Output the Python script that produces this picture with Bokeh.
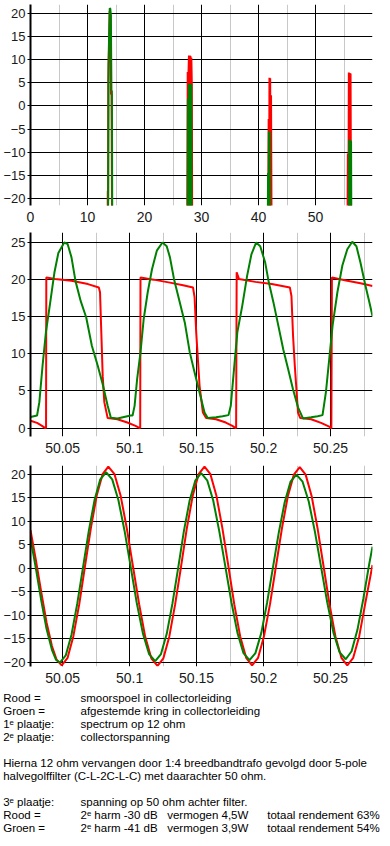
from bokeh.plotting import figure
from bokeh.layouts import column
from bokeh.models import FixedTicker, NumeralTickFormatter, Label, Range1d
from bokeh.embed import file_html
from bokeh.resources import INLINE

# ---------------- data ----------------
# Plot 1: spectrum (frequency, dB) - floor values (-30) lie below the visible range
spec_f_red = [0, 13.52, 13.56, 13.62, 13.66, 13.9, 14.05, 14.12, 14.22, 14.32,
              27.5, 27.58, 27.65, 27.72, 27.8, 27.9, 27.98, 28.08, 28.15, 28.22, 28.3, 28.38,
              41.7, 41.78, 41.85, 41.92, 42.0, 42.05, 42.12, 42.2, 42.3,
              55.6, 55.68, 55.76, 55.85, 55.93, 56.0, 56.08, 56.15, 56.25, 60]
spec_db_red = [-30, -30, -18.3, -20.5, 5, 20.5, 19.5, 2.5, 2.5, -30,
               -30, 7.3, -30, 7.2, 10.9, -30, 10.8, 10.6, -30, 10.4, 4.8, -30,
               -30, -2.8, -30, 6.1, -30, 6.0, -30, 2.3, -30,
               -30, -10.3, -30, 7.2, -30, 7.1, -30, 7.0, -30, -30]
spec_f_green = [0, 13.6, 13.68, 13.9, 14.0, 14.1, 14.2, 14.28, 14.36,
                27.55, 27.62, 27.7, 27.8, 27.9, 28.0, 28.1, 28.2, 28.28,
                41.6, 41.68, 41.75, 41.82, 41.9, 41.97, 42.03,
                55.85, 55.92, 56.0, 56.08, 56.16, 56.24, 56.3, 60]
spec_db_green = [-30, -30, 8.8, 21.1, 21.0, 19.5, 3.3, 3.3, -30,
                 -30, 1.6, -30, 4.8, -30, 4.8, -30, 4.7, -30,
                 -30, -14.5, -30, -5.5, -30, -5.6, -30,
                 -30, -7.3, -30, -7.4, -30, -7.5, -30, -30]

# Plot 2: collector voltage (time in us, volts)
col_t_red = [50.026, 50.0309, 50.0346, 50.0370, 50.0376, 50.0378, 50.0444, 50.0566, 50.0689, 50.0770,
             50.0779, 50.0787, 50.0799, 50.0811, 50.0836, 50.0909, 50.0983, 50.1044, 50.1076,
             50.1079, 50.1081, 50.1179, 50.1301, 50.1399, 50.1473, 50.1485, 50.1497, 50.1522,
             50.1547, 50.1571, 50.1645, 50.1718, 50.1767, 50.1792,
             50.1795, 50.1799, 50.1816, 50.1939, 50.2061, 50.2196, 50.2208, 50.2220, 50.2233,
             50.2257, 50.2274, 50.2355, 50.2429, 50.2490, 50.2502,
             50.2506, 50.2510, 50.2625, 50.2723, 50.2813]
col_v_red = [1.0, 0.7, 0.3, 0.0, 0.0, 20.3, 20.1, 19.85, 19.4, 18.95,
             18.3, 13.8, 7.0, 3.5, 1.35, 1.2, 0.75, 0.3, 0.0,
             0.0, 20.3, 20.0, 19.6, 19.25, 18.95, 17.6, 12.9, 5.7,
             2.1, 1.35, 1.2, 0.75, 0.3, 0.0,
             0.0, 21.0, 20.1, 19.7, 19.4, 18.95, 17.8, 12.4, 8.4,
             2.1, 1.35, 1.2, 0.7, 0.2, 0.0,
             0.0, 20.3, 19.85, 19.5, 19.15]
col_t_green = [50.026, 50.0309, 50.0326, 50.0350, 50.0375, 50.0407, 50.0439, 50.0468, 50.0512, 50.0537,
               50.0566, 50.0596, 50.0635, 50.0676, 50.0718, 50.0762, 50.0799, 50.0836, 50.0860, 50.0909,
               50.0958, 50.1007, 50.1022,
               50.1037, 50.1056, 50.1081, 50.1105, 50.1135, 50.1167, 50.1203, 50.1245, 50.1277, 50.1301,
               50.1331, 50.1375, 50.1412, 50.1449, 50.1485, 50.1522, 50.1559, 50.1583, 50.1645, 50.1694,
               50.1738,
               50.1755, 50.1779, 50.1804, 50.1841, 50.1877, 50.1909, 50.1944, 50.1975, 50.2012, 50.2037,
               50.2074, 50.2110, 50.2147, 50.2184, 50.2220, 50.2257, 50.2294, 50.2355, 50.2404, 50.2440,
               50.2465, 50.2490, 50.2515, 50.2551, 50.2588, 50.2625, 50.2662, 50.2693, 50.2723, 50.2760,
               50.2784, 50.2813]
col_v_green = [1.5, 1.7, 3.5, 8.4, 12.9, 16.9, 21.0, 23.6, 25.0, 24.8,
               23.0, 19.8, 17.1, 14.9, 11.1, 8.4, 5.9, 3.0, 1.4, 1.3,
               1.5, 1.7, 1.7,
               3.0, 6.6, 10.2, 14.7, 18.3, 21.4, 23.9, 25.0, 24.5, 23.0,
               20.1, 16.9, 14.2, 10.2, 7.5, 4.8, 2.1, 1.35, 1.45, 1.6,
               1.75,
               3.0, 7.9, 12.9, 16.5, 20.5, 23.4, 25.0, 24.5, 22.3, 19.8,
               16.9, 13.8, 10.6, 7.9, 5.2, 2.8, 1.3, 1.45, 1.6, 1.75,
               4.8, 9.3, 13.8, 18.3, 21.9, 24.1, 25.1, 24.5, 22.3, 19.2,
               17.4, 15.1]

# Plot 3: voltage on 50 ohm behind filter
out_t_red = [50.026, 50.030, 50.034, 50.038, 50.042, 50.0455, 50.0493,
             50.0537, 50.0580, 50.0624, 50.0667, 50.0711, 50.0754, 50.0798, 50.0841,
             50.0887, 50.0933, 50.0979, 50.1025, 50.1071, 50.1116, 50.1162, 50.1208,
             50.1252, 50.1296, 50.1340, 50.1384, 50.1427, 50.1471, 50.1515, 50.1559,
             50.1603, 50.1648, 50.1692, 50.1737, 50.1781, 50.1825, 50.1870, 50.1914,
             50.1959, 50.2003, 50.2048, 50.2092, 50.2137, 50.2181, 50.2226, 50.2270,
             50.2314, 50.2359, 50.2403, 50.2448, 50.2492, 50.2536, 50.2581, 50.2625,
             50.2669, 50.2714, 50.2758, 50.2813]
out_v_red = [8.1, 1.8, -5.0, -11.5, -16.5, -19.4, -20.6,
             -19.0, -14.4, -7.6, 0.5, 8.6, 15.4, 20.0, 21.6,
             20.0, 15.4, 8.5, 0.4, -7.6, -14.5, -19.1, -20.7,
             -19.1, -14.5, -7.6, 0.4, 8.5, 15.4, 20.0, 21.6,
             20.0, 15.4, 8.6, 0.5, -7.6, -14.4, -19.0, -20.6,
             -19.0, -14.4, -7.6, 0.4, 8.5, 15.3, 19.9, 21.5,
             19.9, 15.3, 8.5, 0.4, -7.6, -14.4, -19.0, -20.6,
             -19.0, -14.4, -7.6, 0.7]
out_t_green = [50.026, 50.030, 50.034, 50.038, 50.042, 50.045, 50.048,
               50.0523, 50.0566, 50.0609, 50.0652, 50.0695, 50.0738, 50.0781, 50.0824,
               50.0870, 50.0916, 50.0962, 50.1008, 50.1053, 50.1099, 50.1145, 50.1191,
               50.1234, 50.1277, 50.1320, 50.1363, 50.1405, 50.1448, 50.1491, 50.1534,
               50.1579, 50.1624, 50.1669, 50.1715, 50.1760, 50.1805, 50.1850, 50.1895,
               50.1939, 50.1983, 50.2026, 50.2070, 50.2114, 50.2158, 50.2201, 50.2245,
               50.2291, 50.2337, 50.2383, 50.2429, 50.2475, 50.2521, 50.2567, 50.2613,
               50.2657, 50.2701, 50.2745, 50.2789, 50.2813]
out_v_green = [6.4, 0.0, -6.8, -12.9, -17.3, -19.4, -20.0,
               -18.5, -14.1, -7.5, 0.2, 7.9, 14.5, 18.9, 20.4,
               18.9, 14.5, 8.0, 0.3, -7.3, -13.8, -18.2, -19.7,
               -18.2, -13.9, -7.4, 0.2, 7.9, 14.4, 18.7, 20.2,
               18.7, 14.4, 7.9, 0.3, -7.2, -13.7, -18.0, -19.5,
               -18.0, -13.7, -7.3, 0.2, 7.7, 14.1, 18.4, 19.9,
               18.4, 14.2, 7.8, 0.3, -7.2, -13.6, -17.8, -19.3,
               -17.6, -13.0, -6.4, 1.0, 4.6]

# ticks
spec_xticks = [0, 10, 20, 30, 40, 50]
spec_xminor = [5, 15, 25, 35, 45, 55]
spec_yticks = [-20, -15, -10, -5, 0, 5, 10, 15, 20]
time_xticks = [50.05, 50.1, 50.15, 50.2, 50.25]
time_xminor = [50.075, 50.125, 50.175, 50.225, 50.275]
col_yticks = [0, 5, 10, 15, 20, 25]
out_yticks = [-20, -15, -10, -5, 0, 5, 10, 15, 20]

# notes text
note_rows = [0, 1, 2, 3, 5, 6, 8, 9, 10]
note_col1 = ["Rood =", "Groen =", "1\u1d49 plaatje:", "2\u1d49 plaatje:",
             "Hierna 12 ohm vervangen door 1:4 breedbandtrafo gevolgd door 5-pole",
             "halvegolffilter (C-L-2C-L-C) met daarachter 50 ohm.",
             "3\u1d49 plaatje:", "Rood =", "Groen ="]
note_col2 = ["smoorspoel in collectorleiding", "afgestemde kring in collectorleiding",
             "spectrum op 12 ohm", "collectorspanning", "", "",
             "spanning op 50 ohm achter filter.", "2\u1d49 harm -30 dB", "2\u1d49 harm -41 dB"]
note_col3 = ["", "", "", "", "", "", "", "vermogen 4,5W", "vermogen 3,9W"]
note_col4 = ["", "", "", "", "", "", "", "totaal rendement 63%", "totaal rendement 54%"]

RED = "#ff0000"
GREEN = "#008000"
FONT = "Liberation Sans"


def make_fig(height, xr, yr, top, bottom, left, xticks, xminor, yticks, fmt=None):
    p = figure(width=390, height=height, x_range=Range1d(*xr), y_range=Range1d(*yr),
               output_backend="svg", toolbar_location=None,
               min_border_left=left, min_border_right=390 - 372,
               min_border_top=top, min_border_bottom=bottom)
    p.outline_line_color = None
    p.background_fill_color = "white"
    p.border_fill_color = "white"
    p.xaxis.ticker = FixedTicker(ticks=xticks, minor_ticks=xminor)
    p.yaxis.ticker = FixedTicker(ticks=yticks)
    if fmt is not None:
        p.xaxis.formatter = fmt
    p.xgrid.grid_line_color = "black"
    p.xgrid.grid_line_width = 1
    p.xgrid.minor_grid_line_color = "#c8c8c8"
    p.ygrid.grid_line_color = "black"
    p.ygrid.grid_line_width = 1
    # x axis: labels only
    p.xaxis.axis_line_color = None
    p.xaxis.major_tick_line_color = None
    p.xaxis.minor_tick_line_color = None
    p.xaxis.major_label_standoff = 0
    p.xaxis.major_label_text_font = FONT
    p.xaxis.major_label_text_font_size = "14px"
    p.xaxis.major_label_text_color = "#1a1a1a"
    # y axis: thick black line, short outside ticks
    p.yaxis.axis_line_color = "black"
    p.yaxis.axis_line_width = 2
    p.yaxis.major_tick_line_color = "black"
    p.yaxis.major_tick_out = 3
    p.yaxis.major_tick_in = 0
    p.yaxis.minor_tick_line_color = None
    p.yaxis.major_label_standoff = 2
    p.yaxis.major_label_text_font = FONT
    p.yaxis.major_label_text_font_size = "13px"
    p.yaxis.major_label_text_color = "#1a1a1a"
    return p


p1 = make_fig(224, (0, 60), (-21.5, 21.9), 4, 18, 26, spec_xticks, spec_xminor, spec_yticks)
p1.line(spec_f_red, spec_db_red, line_color=RED, line_width=2)
p1.line(spec_f_green, spec_db_green, line_color=GREEN, line_width=2)

p2 = make_fig(232, (50.026, 50.2813), (-1.13, 26.35), 8, 20, 25, time_xticks, time_xminor, col_yticks,
              NumeralTickFormatter(format="0.[00]"))
p2.line(col_t_red, col_v_red, line_color=RED, line_width=2)
p2.line(col_t_green, col_v_green, line_color=GREEN, line_width=2)

p3 = make_fig(229, (50.026, 50.2813), (-20.84, 21.84), 9, 18, 25, time_xticks, time_xminor, out_yticks,
              NumeralTickFormatter(format="0.[00]"))
p3.line(out_t_red, out_v_red, line_color=RED, line_width=2)
p3.line(out_t_green, out_v_green, line_color=GREEN, line_width=2)

# notes: separate root (not frame-aligned with the charts); frame covers the whole figure
p4 = figure(width=390, height=150, x_range=Range1d(0, 390), y_range=Range1d(150, 0),
            output_backend="svg", toolbar_location=None,
            min_border_left=0, min_border_right=0, min_border_top=0, min_border_bottom=0,
            x_axis_location=None, y_axis_location=None)
p4.grid.visible = False
p4.outline_line_color = None
xpos = [2.7, 80, 166.7, 266.7]
for row, c1, c2, c3, c4 in zip(note_rows, note_col1, note_col2, note_col3, note_col4):
    for xp, txt in zip(xpos, [c1, c2, c3, c4]):
        if txt:
            p4.add_layout(Label(x=xp, y=12 + 13 * row, text=txt, text_font=FONT,
                                text_font_size="11.5px", text_color="black",
                                text_baseline="middle", text_align="left"))

charts = column(p1, p2, p3)

open("out.html", "w").write(file_html([charts, p4], INLINE))
